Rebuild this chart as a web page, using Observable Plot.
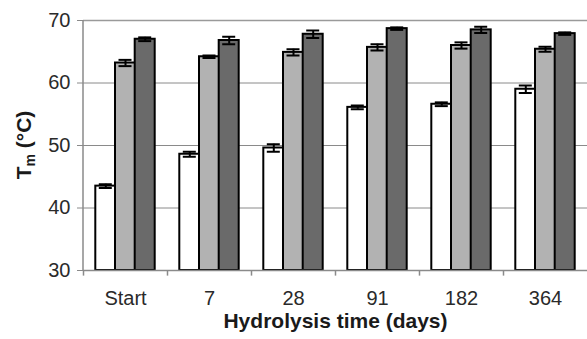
<!DOCTYPE html>
<html>
<head>
<meta charset="utf-8">
<script src="https://cdn.jsdelivr.net/npm/d3@7"></script>
<script src="https://cdn.jsdelivr.net/npm/@observablehq/plot@0.6"></script>
<style>
  html, body { margin: 0; padding: 0; background: #ffffff; }
  svg { display: block; }
</style>
</head>
<body>
<div id="chart"></div>
<script>
const categories = ["Start", "7", "28", "91", "182", "364"];
const seriesNames = ["A", "B", "C"];
const seriesFill = ["#ffffff", "#b2b2b2", "#6a6a6a"];
const valuesA = [43.5, 48.6, 49.6, 56.1, 56.6, 59.0];
const errorsA = [0.3, 0.4, 0.6, 0.3, 0.3, 0.6];
const valuesB = [63.2, 64.2, 64.9, 65.7, 66.0, 65.4];
const errorsB = [0.5, 0.2, 0.5, 0.5, 0.5, 0.4];
const valuesC = [67.0, 66.8, 67.8, 68.7, 68.5, 67.9];
const errorsC = [0.3, 0.6, 0.6, 0.2, 0.5, 0.2];
const yTicks = [30, 40, 50, 60, 70];

const seriesValues = [valuesA, valuesB, valuesC];
const seriesErrors = [errorsA, errorsB, errorsC];

const font = "'Liberation Sans', Arial, sans-serif";
const barW = 19.7;
const step = 84;
const yMin = yTicks[0];
const yMax = yTicks[yTicks.length - 1];

const rowsBySeries = seriesNames.map((s, i) =>
  categories.map((c, j) => ({cat: c, series: s, v: seriesValues[i][j], e: seriesErrors[i][j]}))
);

const marks = [
  Plot.gridY(yTicks, {stroke: "#8a8a8a", strokeOpacity: 1, strokeWidth: 1})
];
rowsBySeries.forEach((rows, i) => {
  const dx = (i - 1) * barW;
  marks.push(
    Plot.barY(rows, {x: "cat", y1: yMin, y2: "v", dx, fill: seriesFill[i], stroke: "#000", strokeWidth: 2})
  );
});
rowsBySeries.forEach((rows, i) => {
  const dx = (i - 1) * barW;
  marks.push(
    Plot.ruleX(rows, {x: "cat", y1: d => d.v - d.e, y2: d => d.v + d.e, dx, stroke: "#000", strokeWidth: 2}),
    Plot.tickY(rows, {x: "cat", y: d => d.v + d.e, dx, insetLeft: 3.5, insetRight: 3.5, stroke: "#000", strokeWidth: 2}),
    Plot.tickY(rows, {x: "cat", y: d => d.v - d.e, dx, insetLeft: 3.5, insetRight: 3.5, stroke: "#000", strokeWidth: 2})
  );
});
marks.push(
  Plot.ruleY([yMin], {stroke: "#8a8a8a", strokeWidth: 1.5}),
  Plot.ruleY([yMax], {stroke: "#9a9a9a", strokeWidth: 1.5}),
  Plot.ruleX(categories, {x: d => d, dx: -step / 2, y1: yMin, y2: yMin - 0.9, stroke: "#8a8a8a", strokeWidth: 1.5}),
  Plot.axisY({ticks: yTicks, tickSize: 6, tickPadding: 7, fontSize: 20, label: null, stroke: "#8a8a8a", color: "#2a2a2a"}),
  Plot.axisX({tickSize: 0, tickPadding: 20, fontSize: 20, label: null, color: "#2a2a2a"}),
  Plot.text(["Hydrolysis time (days)"], {frameAnchor: "bottom", dy: 57, fontSize: 21, fontWeight: "bold", fill: "#1a1a1a"})
);

const chart = Plot.plot({
  width: 587,
  height: 339,
  marginLeft: 83,
  marginRight: 0,
  marginTop: 20,
  marginBottom: 69,
  style: {fontFamily: font, background: "#ffffff", overflow: "visible"},
  x: {domain: categories, paddingInner: 1 - barW / step, paddingOuter: (1 - barW / step) / 2, align: 0.5, axis: null},
  y: {domain: [yMin, yMax], axis: null},
  marks
});

// left axis line
const svg = d3.select(chart);
svg.append("line")
  .attr("x1", 83).attr("x2", 83).attr("y1", 20).attr("y2", 270)
  .attr("stroke", "#8a8a8a").attr("stroke-width", 1.5);

// y-axis label with subscript
const lab = svg.append("text")
  .attr("transform", "translate(31,145) rotate(-90)")
  .attr("text-anchor", "middle")
  .attr("font-family", font)
  .attr("font-size", 21)
  .attr("font-weight", "bold")
  .attr("fill", "#1a1a1a");
lab.append("tspan").text("T");
lab.append("tspan").attr("font-size", 14).attr("dy", 4).text("m");
lab.append("tspan").attr("dy", -4).text(" (°C)");

document.getElementById("chart").appendChild(chart);
</script>
</body>
</html>
